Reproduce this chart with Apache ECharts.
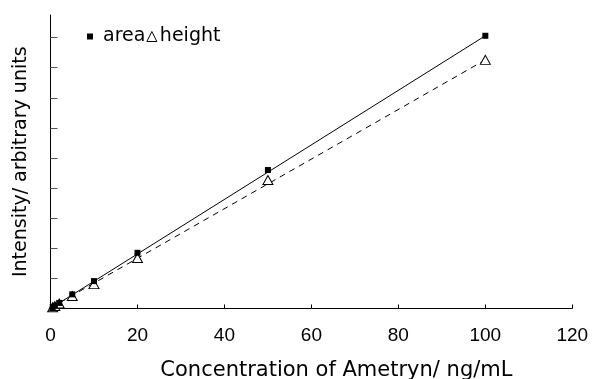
<!DOCTYPE html>
<html>
<head>
<meta charset="utf-8">
<script src="https://cdn.jsdelivr.net/npm/echarts@6/dist/echarts.min.js"></script>
<style>
  html, body { margin: 0; padding: 0; background: #fff; }
  #chart { width: 592px; height: 379px; }
</style>
</head>
<body>
<div id="chart"></div>
<script>
// concentration (ng/mL)
const conc = [0.5, 1, 2, 5, 10, 20, 50, 100];
// intensity (arbitrary units)
const areaValues = [0.45, 0.9, 1.85, 4.7, 9.1, 18.5, 46.0, 90.6];
const heightValues = [0.4, 0.8, 1.65, 4.15, 8.1, 16.8, 42.7, 82.6];
// fitted lines, end points
const areaFit = [[0, 0], [100, 90.6]];
const heightFit = [[0, 0.2], [100, 82.6]];
const xTicks = [0, 20, 40, 60, 80, 100, 120];
const yTicks = [0, 10, 20, 30, 40, 50, 60, 70, 80, 90];

const TITLE_FONT = '"DejaVu Sans", sans-serif';
const TICK_FONT = '"Liberation Sans", Arial, sans-serif';

const pairs = (xs, ys) => xs.map((x, i) => [x, ys[i]]);

const chart = echarts.init(document.getElementById('chart'), null, {renderer: 'canvas'});

const option = {
  animation: false,
  backgroundColor: '#fff',
  textStyle: {fontFamily: TITLE_FONT, color: '#000'},
  grid: {left: 50.5, right: 19.7, top: 15, bottom: 70.5, outerBoundsMode: 'none'},
  legend: {
    left: 82,
    top: 22,
    itemWidth: 10,
    itemHeight: 10,
    itemGap: 1,
    textStyle: {fontSize: 19, color: '#000', fontFamily: TITLE_FONT, padding: [0, 0, 0, -2]},
    data: [
      // square sits at the left of its icon box, leaving a wider gap before the text
      {name: 'area', icon: 'path://M0,0M10,10M0,2L6,2L6,8L0,8Z', itemStyle: {color: '#000', borderWidth: 0},
        textStyle: {padding: [0, 0, 0, 1]}},
      {name: 'height', icon: 'triangle', itemStyle: {color: '#fff', borderColor: '#000', borderWidth: 1}},
    ],
  },
  xAxis: {
    type: 'value',
    min: 0,
    max: 120,
    interval: 20,
    name: 'Concentration of Ametryn/ ng/mL',
    nameLocation: 'middle',
    nameGap: 52,
    nameTextStyle: {fontSize: 21, color: '#000', fontFamily: TITLE_FONT, padding: [0, 0, 0, 50]},
    axisLine: {lineStyle: {color: '#000', width: 1}},
    axisTick: {inside: true, length: 4, lineStyle: {color: '#000'}, customValues: xTicks},
    axisLabel: {fontSize: 19, color: '#000', margin: 18, fontFamily: TICK_FONT, customValues: xTicks},
    splitLine: {show: false},
  },
  yAxis: {
    type: 'value',
    min: 0,
    max: 97.5,
    interval: 10,
    name: 'Intensity/ arbitrary units',
    nameLocation: 'middle',
    nameGap: 20,
    nameTextStyle: {fontSize: 19, color: '#000', fontFamily: TITLE_FONT},
    axisLine: {show: true, lineStyle: {color: '#000', width: 1}},
    axisTick: {show: true, inside: true, length: 7, lineStyle: {color: '#555'}, customValues: yTicks},
    axisLabel: {show: false},
    splitLine: {show: false},
  },
  series: [
    {
      name: 'areaFit',
      type: 'line',
      data: areaFit,
      symbol: 'none',
      lineStyle: {color: '#000', width: 1},
      z: 1,
    },
    {
      name: 'heightFit',
      type: 'line',
      data: heightFit,
      symbol: 'none',
      lineStyle: {color: '#000', width: 1, type: [6, 5]},
      z: 1,
    },
    {
      name: 'height',
      type: 'scatter',
      data: pairs(conc, heightValues),
      symbol: 'triangle',
      symbolSize: [10, 9],
      itemStyle: {color: '#fff', borderColor: '#000', borderWidth: 1, opacity: 1},
      z: 3,
    },
    {
      name: 'area',
      type: 'scatter',
      data: pairs(conc, areaValues),
      symbol: 'rect',
      symbolSize: 6,
      itemStyle: {color: '#000', opacity: 1},
      z: 4,
    },
  ],
};

chart.setOption(option);
</script>
</body>
</html>
